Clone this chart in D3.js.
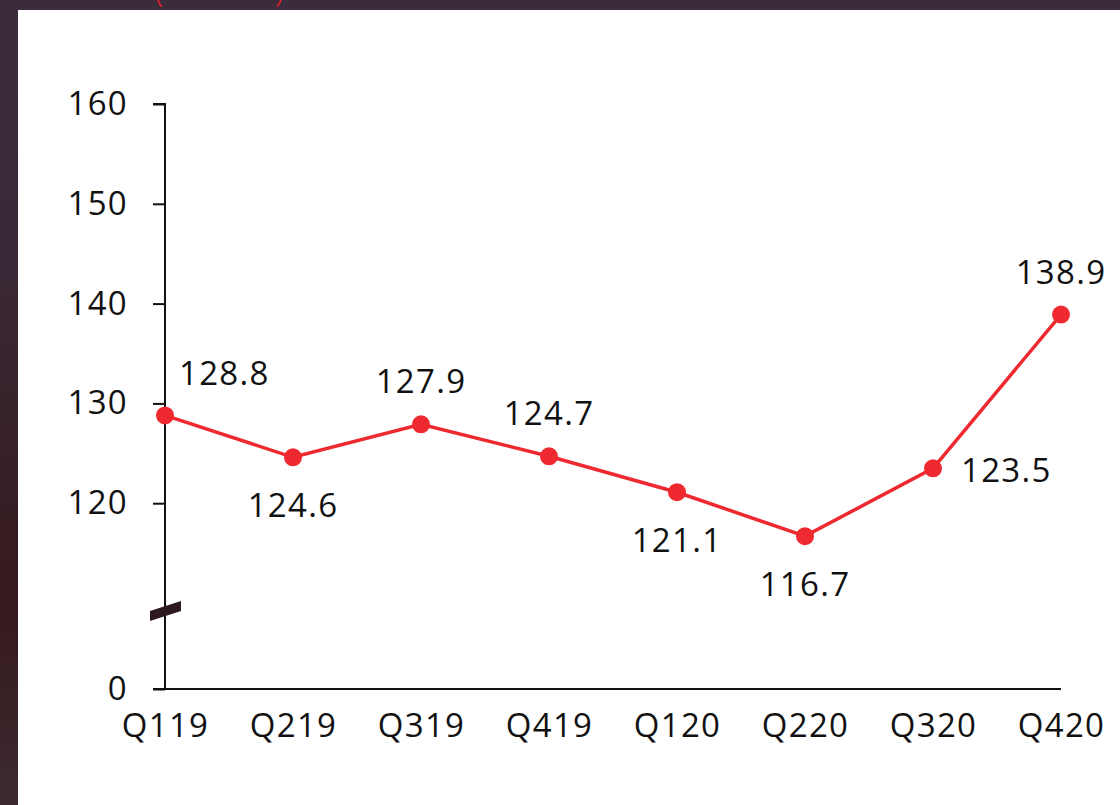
<!DOCTYPE html>
<html><head><meta charset="utf-8">
<script src="https://cdn.jsdelivr.net/npm/d3@7"></script>
<style>html,body{margin:0;padding:0;background:#3a2d3b;overflow:hidden}</style>
</head><body>
<svg id="c" width="1120" height="805"></svg>
<script>
const categories = ["Q119","Q219","Q319","Q419","Q120","Q220","Q320","Q420"];
const values = [128.8,124.6,127.9,124.7,121.1,116.7,123.5,138.9];
const labelPos = ["right","below","above","above","below","below","right","above"];
const yTicks = [0,120,130,140,150,160];

const svg = d3.select("#c");
const defs = svg.append("defs");
const g1 = defs.append("linearGradient").attr("id","bgl").attr("x1",0).attr("y1",0).attr("x2",0).attr("y2",1);
g1.append("stop").attr("offset","0%").attr("stop-color","#3b2c3c");
g1.append("stop").attr("offset","30%").attr("stop-color","#3a2a38");
g1.append("stop").attr("offset","75%").attr("stop-color","#35191c");
g1.append("stop").attr("offset","100%").attr("stop-color","#3d2a30");
svg.append("rect").attr("width",1120).attr("height",805).attr("fill","url(#bgl)");
svg.append("rect").attr("x",0).attr("y",0).attr("width",1120).attr("height",10).attr("fill","#3b2c3c");
// title fragments clipped at the very top (as in the reference)
svg.append("text").attr("x",155).attr("y",2).attr("font-family","'Open Sans', sans-serif").attr("font-weight",300).attr("font-size",30).attr("fill","#e8202a").text("(");
svg.append("text").attr("x",275).attr("y",2).attr("font-family","'Open Sans', sans-serif").attr("font-weight",300).attr("font-size",30).attr("fill","#e8202a").text(")");
svg.append("rect").attr("x",18).attr("y",10).attr("width",1102).attr("height",795).attr("fill","#ffffff");

const font = "'Open Sans', sans-serif";
const FS = 33, LS = 1.3;
const x = d3.scalePoint().domain(categories).range([165,1061]).padding(0);
const y = d3.scaleLinear().domain([0,110,160]).range([689,603,104]);

// y axis
const yAxis = d3.axisLeft(y).tickValues(yTicks).tickSize(12).tickPadding(25).tickFormat(d3.format("d"));
const ya = svg.append("g").attr("transform","translate(165,0)").call(yAxis);
ya.select(".domain").attr("stroke","#111").attr("stroke-width",2).attr("d","M-12,104H0V689");
ya.selectAll(".tick line").attr("stroke","#111").attr("stroke-width",2);
ya.selectAll(".tick text").attr("font-family",font).attr("font-size",FS).attr("letter-spacing",LS).attr("fill","#111");

// x axis
const xAxis = d3.axisBottom(x).tickSize(0).tickPadding(25);
const xa = svg.append("g").attr("transform","translate(0,689)").call(xAxis);
xa.select(".domain").attr("stroke","#111").attr("stroke-width",2).attr("d","M153,0H1061");
xa.selectAll(".tick text").attr("font-family",font).attr("font-size",FS).attr("letter-spacing",LS).attr("fill","#111");

// break mark
const by = y(110) + 13;
svg.append("path").attr("d",`M150,${by+5}L181,${by-5}L181,${by-15}L150,${by-5}Z`)
  .attr("fill","#2e1a1e");

// line
const line = d3.line().x((d,i)=>x(categories[i])).y(d=>y(d));
svg.append("path").datum(values).attr("d",line).attr("fill","none").attr("stroke","#ee2a30").attr("stroke-width",3.5);
svg.selectAll("circle.pt").data(values).join("circle").attr("class","pt")
  .attr("cx",(d,i)=>x(categories[i])).attr("cy",d=>y(d)).attr("r",9).attr("fill","#ee2a30");

// labels
svg.selectAll("text.lbl").data(values).join("text").attr("class","lbl")
  .attr("font-family",font).attr("font-size",FS).attr("letter-spacing",LS).attr("fill","#111")
  .attr("text-anchor",(d,i)=>labelPos[i]==="right"?"start":"middle")
  .attr("x",(d,i)=>{const px=x(categories[i]); return labelPos[i]==="right"?px+(i===0?14:28):px;})
  .attr("y",(d,i)=>{const py=y(d); const p=labelPos[i];
     if(p==="above") return py-31;
     if(p==="below") return py+60;
     return i===0? py-30 : py+14;})
  .text(d=>d3.format(".1f")(d));
</script>
</body></html>
